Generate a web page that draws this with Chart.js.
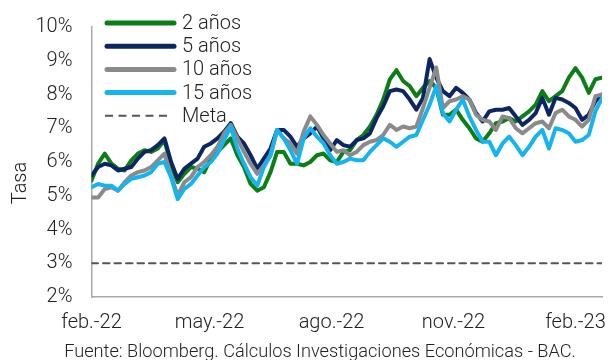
<!DOCTYPE html>
<html>
<head>
<meta charset="utf-8">
<script src="https://cdn.jsdelivr.net/npm/chart.js@4.4.1/dist/chart.umd.min.js"></script>
<style>
  html, body { margin: 0; padding: 0; background: #ffffff; }
  #marco { width: 613px; height: 360px; position: relative; }
</style>
</head>
<body>
<div id="marco"><canvas id="grafico" width="613" height="360"></canvas></div>
<script>
// Fechas de observación (cada 5 días)
const fechas = [
  '2022-02-01','2022-02-06','2022-02-11','2022-02-16','2022-02-21','2022-02-26',
  '2022-03-03','2022-03-08','2022-03-13','2022-03-18','2022-03-23','2022-03-28',
  '2022-04-02','2022-04-07','2022-04-12','2022-04-17','2022-04-22','2022-04-27',
  '2022-05-02','2022-05-07','2022-05-12','2022-05-17','2022-05-22','2022-05-27',
  '2022-06-01','2022-06-06','2022-06-11','2022-06-16','2022-06-21','2022-06-26',
  '2022-07-01','2022-07-06','2022-07-11','2022-07-16','2022-07-21','2022-07-26','2022-07-31',
  '2022-08-05','2022-08-10','2022-08-15','2022-08-20','2022-08-25','2022-08-30',
  '2022-09-04','2022-09-09','2022-09-14','2022-09-19','2022-09-24','2022-09-29',
  '2022-10-04','2022-10-09','2022-10-14','2022-10-19','2022-10-24','2022-10-29',
  '2022-11-03','2022-11-08','2022-11-13','2022-11-18','2022-11-23','2022-11-28',
  '2022-12-03','2022-12-08','2022-12-13','2022-12-18','2022-12-23','2022-12-28',
  '2023-01-02','2023-01-07','2023-01-12','2023-01-17','2023-01-22','2023-01-27',
  '2023-02-01','2023-02-06','2023-02-11','2023-02-16','2023-02-21'
];

// Tasas (%) por plazo
const tasa2 = [
  5.45, 5.95, 6.25, 5.95, 5.8, 5.75, 6.05, 6.25, 6.35, 6.3,
  6.4, 6.65, 5.9, 5.4, 5.65, 5.85, 5.8, 5.7, 6.1, 6.3,
  6.5, 6.7, 6.2, 5.85, 5.35, 5.15, 5.25, 5.7, 6.3, 6.3,
  5.95, 5.95, 5.9, 6.0, 6.2, 6.25, 6.05, 6.0, 6.3, 6.35,
  6.65, 6.8, 7.05, 7.4, 7.85, 8.45, 8.72, 8.4, 8.25, 7.95,
  8.2, 8.4, 8.2, 7.4, 7.4, 7.55, 7.25, 7.0, 6.7, 6.6,
  6.85, 7.15, 7.2, 7.3, 7.2, 7.35, 7.5, 7.7, 8.1, 7.8,
  7.95, 8.1, 8.5, 8.78, 8.5, 8.05, 8.45, 8.5
];
const tasa5 = [
  5.6, 5.85, 5.95, 5.9, 5.75, 5.8, 5.85, 6.1, 6.3, 6.35,
  6.5, 6.7, 6.0, 5.5, 5.8, 5.95, 6.1, 6.45, 6.55, 6.7,
  6.9, 7.15, 6.75, 6.55, 6.2, 5.8, 6.1, 6.4, 6.95, 6.95,
  6.75, 6.45, 6.7, 6.85, 7.05, 6.7, 6.35, 6.65, 6.5, 6.45,
  6.65, 6.7, 6.85, 7.3, 7.65, 8.1, 8.15, 8.1, 7.85, 7.55,
  7.9, 9.05, 8.5, 8.1, 7.95, 8.2, 8.05, 7.85, 7.45, 7.2,
  7.5, 7.55, 7.55, 7.6, 7.35, 7.1, 7.25, 7.45, 7.9, 7.4,
  7.9, 7.85, 7.75, 7.6, 7.25, 7.4, 7.8, 8.0
];
const tasa10 = [
  4.95, 4.95, 5.2, 5.25, 5.15, 5.4, 5.6, 5.7, 5.75, 5.85,
  6.05, 6.25, 5.6, 5.0, 5.4, 5.55, 5.85, 6.0, 6.2, 6.45,
  6.85, 7.1, 6.7, 6.3, 5.95, 5.65, 5.9, 6.2, 6.95, 6.7,
  6.55, 6.25, 6.9, 7.35, 7.1, 6.8, 6.55, 6.3, 6.35, 6.2,
  6.3, 6.5, 6.6, 6.65, 6.8, 7.1, 6.95, 7.05, 7.0, 7.05,
  7.6, 8.2, 8.8, 7.6, 7.8, 7.85, 7.95, 7.85, 7.4, 7.25,
  7.2, 6.95, 7.35, 7.3, 7.0, 6.85, 7.0, 7.15, 7.2, 7.0,
  7.45, 7.55, 7.35, 7.25, 7.05, 7.25, 7.95, 8.0
];
const tasa15 = [
  5.25, 5.35, 5.3, 5.3, 5.15, 5.35, 5.5, 5.55, 5.6, 5.7,
  5.95, 6.0, 5.55, 4.9, 5.2, 5.35, 5.6, 5.85, 6.0, 6.25,
  6.65, 7.05, 6.4, 5.95, 5.55, 5.3, 5.85, 6.2, 6.95, 6.7,
  6.35, 5.95, 6.7, 7.0, 6.75, 6.55, 6.2, 5.95, 6.0, 6.1,
  6.05, 6.05, 6.3, 6.5, 6.7, 6.6, 6.45, 6.6, 6.75, 6.8,
  7.25, 7.7, 8.25, 7.45, 7.2, 7.55, 7.85, 7.35, 6.95, 6.6,
  6.6, 6.2, 6.55, 6.75, 6.5, 6.2, 6.45, 6.75, 6.95, 6.4,
  7.0, 6.95, 6.85, 6.6, 6.65, 6.8, 7.5, 7.9
];

// Meta de inflación (%)
const meta = 3;

// Etiquetas del eje horizontal
const fechasEje = ['2022-02-01', '2022-05-01', '2022-08-01', '2022-11-01', '2023-02-01'];
const etiquetasEje = ['feb.-22', 'may.-22', 'ago.-22', 'nov.-22', 'feb.-23'];

const inicio = Date.parse(fechas[0]);
const aDias = f => Math.round((Date.parse(f) - inicio) / 86400000);
const dias = fechas.map(aDias);
const diasEje = fechasEje.map(aDias);
const serie = vals => vals.map((v, i) => ({ x: dias[i], y: v }));

const FUENTE = 'Roboto, "Liberation Sans", sans-serif';

const extras = {
  id: 'extras',
  afterDraw(chart) {
    const ctx = chart.ctx;
    ctx.save();
    // Leyenda
    const yBase = 23, paso = 23.2;
    chart.data.datasets.forEach((ds, i) => {
      const y = yBase + i * paso;
      ctx.beginPath();
      if (ds.borderDash) {
        ctx.setLineDash([8, 5.5]);
        ctx.lineWidth = 2;
        ctx.lineCap = 'butt';
        ctx.moveTo(105, y);
        ctx.lineTo(169, y);
      } else {
        ctx.setLineDash([]);
        ctx.lineWidth = 5;
        ctx.lineCap = 'round';
        ctx.moveTo(107, y);
        ctx.lineTo(174, y);
      }
      ctx.strokeStyle = ds.borderColor;
      ctx.stroke();
      ctx.setLineDash([]);
      ctx.fillStyle = '#222';
      ctx.font = '300 20px ' + FUENTE;
      ctx.textAlign = 'left';
      ctx.textBaseline = 'middle';
      ctx.fillText(ds.label, 182, y + 1);
    });
    // Título del eje vertical
    ctx.save();
    ctx.translate(21, 183);
    ctx.rotate(-Math.PI / 2);
    ctx.font = '300 20px ' + FUENTE;
    ctx.textAlign = 'center';
    ctx.textBaseline = 'middle';
    ctx.fillStyle = '#222';
    ctx.fillText('Tasa', 0, 0);
    ctx.restore();
    // Fuente
    ctx.font = '300 18.2px ' + FUENTE;
    ctx.textAlign = 'center';
    ctx.textBaseline = 'middle';
    ctx.fillStyle = '#222';
    ctx.fillText('Fuente: Bloomberg. Cálculos Investigaciones Económicas - BAC.', 320, 352);
    ctx.restore();
  }
};

new Chart(document.getElementById('grafico'), {
  type: 'line',
  data: {
    datasets: [
      { label: '2 años', data: serie(tasa2), borderColor: '#0b7f16', borderWidth: 4, order: 3 },
      { label: '5 años', data: serie(tasa5), borderColor: '#0c2563', borderWidth: 4, order: 2 },
      { label: '10 años', data: serie(tasa10), borderColor: '#8a8a8a', borderWidth: 4, order: 1 },
      { label: '15 años', data: serie(tasa15), borderColor: '#16b4ef', borderWidth: 4, order: 0 },
      { label: 'Meta', data: [{ x: dias[0], y: meta }, { x: dias[dias.length - 1], y: meta }],
        borderColor: '#555555', borderWidth: 2, borderDash: [6.5, 5], order: 4 }
    ]
  },
  options: {
    responsive: false,
    animation: false,
    devicePixelRatio: 1,
    layout: { padding: { top: 27, right: 11, bottom: 0, left: 0 } },
    elements: {
      point: { radius: 0, hoverRadius: 0 },
      line: { tension: 0, borderJoinStyle: 'round', borderCapStyle: 'round' }
    },
    plugins: { legend: { display: false }, tooltip: { enabled: false } },
    scales: {
      x: {
        type: 'linear',
        min: 0,
        max: dias[dias.length - 1],
        grid: { display: false, drawTicks: false },
        border: { display: true, color: '#a9a9a9', width: 1.5 },
        afterBuildTicks: s => { s.ticks = diasEje.map(v => ({ value: v })); },
        afterFit: s => { s.height = 63; s.paddingLeft = 0; s.paddingRight = 0; },
        ticks: {
          autoSkip: false,
          maxRotation: 0,
          padding: 14,
          color: '#222',
          font: { family: FUENTE, size: 20, weight: '300' },
          callback: v => etiquetasEje[diasEje.indexOf(v)]
        }
      },
      y: {
        min: 2,
        max: 10,
        grid: { display: false, drawTicks: false },
        border: { display: true, color: '#a9a9a9', width: 1.5 },
        afterFit: s => { s.width = 91.5; s.paddingTop = 0; s.paddingBottom = 0; },
        ticks: {
          stepSize: 1,
          padding: 19,
          color: '#222',
          font: { family: FUENTE, size: 20, weight: '300' },
          callback: v => v + '%'
        }
      }
    }
  },
  plugins: [extras]
});
</script>
</body>
</html>
